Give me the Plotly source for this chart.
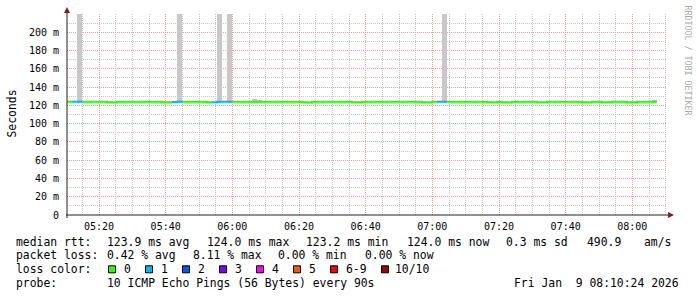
import pandas as pd
import plotly.graph_objects as go

# ---------------- data ----------------
T_START = "2026-01-09 05:10:24"
T_END = "2026-01-09 08:10:24"
STEP_S = 90

# median rtt per 90 s step (ms)
median_ms = [
    124.0, 124.0, 124.0, 124.0, 124.0, 124.0, 124.0, 124.0, 123.4, 123.2,
    124.0, 124.0, 124.0, 124.0, 124.0, 124.0, 124.0, 124.0, 124.0, 123.3,
    123.5, 123.6, 124.0, 124.0, 124.0, 124.0, 124.0, 124.0, 123.3, 123.3,
    124.0, 124.0, 124.0, 124.0, 124.0, 124.0, 124.0, 124.0, 124.0, 124.0,
    124.0, 124.0, 124.0, 124.0, 124.0, 124.0, 124.0, 123.4, 123.2, 124.0,
    124.0, 124.0, 124.0, 124.0, 124.0, 124.0, 124.0, 123.4, 123.3, 124.0,
    124.0, 124.0, 124.0, 124.0, 124.0, 124.0, 124.0, 124.0, 124.0, 124.0,
    124.0, 123.3, 123.3, 124.0, 124.0, 124.0, 124.0, 124.0, 124.0, 124.0,
    124.0, 124.0, 124.0, 124.0, 123.3, 123.3, 124.0, 123.3, 123.3, 124.0,
    124.0, 124.0, 124.0, 124.0, 123.3, 123.3, 124.0, 124.0, 124.0, 124.0,
    124.0, 124.0, 124.0, 123.3, 123.3, 124.0, 124.0, 123.3, 123.3, 124.0,
    124.0, 124.0, 123.3, 123.3, 124.0, 124.0, 124.0, 124.0,
]
# lost pings per step (of 10)
loss = [
    0, 1, 1, 0, 0, 0, 0, 0, 0, 0,
    0, 0, 0, 0, 0, 0, 0, 0, 0, 0,
    0, 1, 1, 0, 0, 0, 0, 0, 0, 1,
    1, 1, 1, 0, 0, 0, 0, 0, 0, 0,
    0, 0, 0, 0, 0, 0, 0, 0, 0, 0,
    0, 0, 0, 0, 0, 0, 0, 0, 0, 0,
    0, 0, 0, 0, 0, 0, 0, 0, 0, 0,
    0, 0, 0, 0, 1, 1, 0, 0, 0, 0,
    0, 0, 0, 0, 0, 0, 0, 0, 0, 0,
    0, 0, 0, 0, 0, 0, 0, 0, 0, 0,
    0, 0, 0, 0, 0, 0, 0, 0, 0, 0,
    0, 0, 0, 0, 0, 0, 0, 0,
]
# smoke (spread of the pings) per step: index, low, high (ms)
smoke_step = [2, 22, 30, 32, 37, 38, 75, 117]
smoke_low = [123.0, 123.0, 123.0, 123.0, 122.5, 122.5, 123.0, 122.5]
smoke_high = [260.0, 260.0, 260.0, 260.0, 126.6, 125.8, 260.0, 125.8]

loss_labels = ["0", "1", "2", "3", "4", "5", "6-9", "10/10"]
loss_colors = ["#26ff00", "#00b8ff", "#0059ff", "#7e00ff", "#ff00ff",
               "#ff5500", "#ff0000", "#a10000"]

y_tick_vals = [0, 20, 40, 60, 80, 100, 120, 140, 160, 180, 200]
y_tick_text = ["0", "20 m", "40 m", "60 m", "80 m", "100 m", "120 m",
               "140 m", "160 m", "180 m", "200 m"]

stats_rtt = ["median rtt:", "123.9 ms avg", "124.0 ms max", "123.2 ms min",
             "124.0 ms now", "0.3 ms sd", "490.9", "am/s"]
stats_loss = ["packet loss:", "0.42 % avg", "8.11 % max", "0.00 % min",
              "0.00 % now"]
probe_text = ["probe:", "10 ICMP Echo Pings (56 Bytes) every 90s",
              "Fri Jan\u00a0\u00a09 08:10:24 2026"]

# ---------------- layout constants (pixels) ----------------
W, H = 697, 297
L, R, T, B = 67, 30, 14, 82
PW, PH = W - L - R, H - T - B
MONO = "DejaVu Sans Mono"


def px(x):
    return (x - L) / PW


def py(y):
    return (T + PH - y) / PH


times = pd.date_range(T_START, periods=len(median_ms) + 1, freq=f"{STEP_S}s")

fig = go.Figure()

# smoke
fig.add_trace(go.Bar(
    x=[times[i] + pd.Timedelta(seconds=STEP_S / 2) for i in smoke_step],
    y=[h - l for h, l in zip(smoke_high, smoke_low)],
    base=smoke_low,
    width=STEP_S * 1000,
    marker=dict(color="#c8c8c8", line=dict(width=0)),
    hoverinfo="skip", showlegend=False,
))


def loss_class(n):
    if n <= 5:
        return n
    if n < 10:
        return 6
    return 7


# median line, coloured by loss
for cls in range(len(loss_colors)):
    xs, ys = [], []
    i = 0
    n = len(median_ms)
    while i < n:
        if loss_class(loss[i]) != cls:
            i += 1
            continue
        j = i
        while j < n and loss_class(loss[j]) == cls:
            xs.append(times[j])
            ys.append(median_ms[j])
            j += 1
        xs.append(times[j])
        ys.append(median_ms[j - 1])
        xs.append(None)
        ys.append(None)
        i = j
    if xs:
        fig.add_trace(go.Scatter(
            x=xs, y=ys, mode="lines", line=dict(color=loss_colors[cls], width=2, shape="hv"),
            hoverinfo="skip", showlegend=False, connectgaps=False,
        ))

minor_grid = "#c8c8c8"
major_grid = "#eea0a0"
dots = "1px,1px"

fig.update_layout(
    width=W, height=H,
    margin=dict(l=L, r=R, t=T, b=B, pad=0),
    paper_bgcolor="white", plot_bgcolor="white",
    showlegend=False,
    bargap=0,
    font=dict(family=MONO, size=10, color="#000000"),
    xaxis=dict(
        type="date", range=[T_START, T_END],
        tick0="2026-01-09 05:20:00", dtick=20 * 60 * 1000,
        tickformat="%H:%M",
        showgrid=True, gridcolor=major_grid, griddash=dots, gridwidth=1,
        minor=dict(dtick=5 * 60 * 1000, tick0="2026-01-09 05:20:00",
                   showgrid=True, gridcolor=minor_grid, griddash=dots, gridwidth=1),
        showline=False, zeroline=False, ticks="",
        ticklabelstandoff=4,
        tickfont=dict(family=MONO, size=10, color="#000000"),
        fixedrange=True,
    ),
    yaxis=dict(
        range=[0, 220],
        tickvals=y_tick_vals, ticktext=y_tick_text,
        showgrid=True, gridcolor=major_grid, griddash=dots, gridwidth=1,
        minor=dict(dtick=10, tick0=0, showgrid=True, gridcolor=minor_grid,
                   griddash=dots, gridwidth=1),
        showline=False, zeroline=False, ticks="",
        ticklabelstandoff=7,
        tickfont=dict(family=MONO, size=10, color="#000000"),
        fixedrange=True,
    ),
)

shapes = []
axis_col = "#202020"
arrow_col = "#8b1a1a"
# axes lines
shapes.append(dict(type="line", xref="paper", yref="paper",
                   x0=px(66), x1=px(670), y0=py(215), y1=py(215),
                   line=dict(color=axis_col, width=1)))
shapes.append(dict(type="line", xref="paper", yref="paper",
                   x0=px(67), x1=px(67), y0=py(218), y1=py(11),
                   line=dict(color=axis_col, width=1)))
# arrows
shapes.append(dict(type="path", xref="paper", yref="paper",
                   path=f"M {px(64)} {py(13)} L {px(70)} {py(13)} L {px(67)} {py(7)} Z",
                   fillcolor=arrow_col, line=dict(color=arrow_col, width=0)))
shapes.append(dict(type="path", xref="paper", yref="paper",
                   path=f"M {px(668)} {py(212)} L {px(668)} {py(218)} L {px(674)} {py(215)} Z",
                   fillcolor=arrow_col, line=dict(color=arrow_col, width=0)))

annotations = []


def text_at(x, y, s, size=11.4, color="#000000", angle=0, xanchor="left"):
    annotations.append(dict(
        xref="paper", yref="paper", x=px(x), y=py(y), text=s, showarrow=False,
        xanchor=xanchor, yanchor="middle", textangle=angle,
        font=dict(family=MONO, size=size, color=color),
        borderpad=0, borderwidth=0,
    ))


# y-axis title and watermark
text_at(11, 113.5, "Seconds", size=11.4, angle=-90, xanchor="center")
text_at(687.5, 60, "RRDTOOL / TOBI OETIKER", size=8.3, color="#aaaaaa",
        angle=90, xanchor="center")

# legend lines
rtt_x = [16, 107.3, 207.3, 306, 407, 506.3, 587, 644]
for x, s in zip(rtt_x, stats_rtt):
    text_at(x, 241.7, s)
loss_x = [16, 107.3, 193.3, 278.3, 365]
for x, s in zip(loss_x, stats_loss):
    text_at(x, 255.3, s)
text_at(16, 269.3, "loss color:")
box_x = [108, 145, 182, 219, 256, 293, 330, 381]
lab_x = [124, 161, 198, 235, 272, 309, 346, 395]
for bx, lx, c, lab in zip(box_x, lab_x, loss_colors, loss_labels):
    shapes.append(dict(type="rect", xref="paper", yref="paper",
                       x0=px(bx + 0.5), x1=px(bx + 7.5), y0=py(272.8), y1=py(265.8),
                       fillcolor=c, line=dict(color="#000000", width=1)))
    text_at(lx, 269.3, lab)
probe_x = [16, 107.3, 513.7]
for x, s in zip(probe_x, probe_text):
    text_at(x, 283.3, s)

fig.update_layout(shapes=shapes, annotations=annotations)

fig.write_html("out.html", config={"displayModeBar": False})
